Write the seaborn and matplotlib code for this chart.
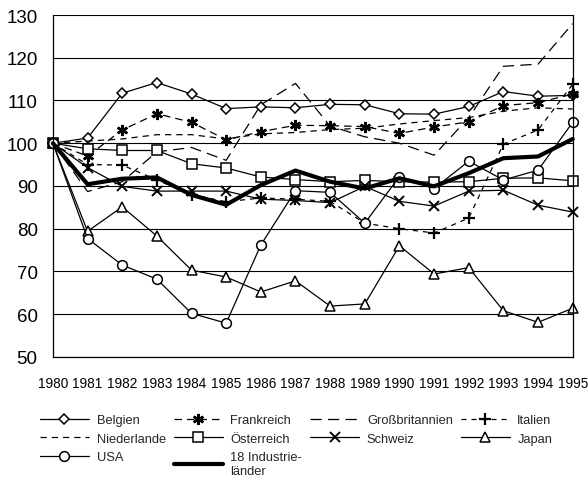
import numpy as np
import pandas as pd
import matplotlib
matplotlib.use("Agg")
import matplotlib.pyplot as plt
import seaborn as sns

years = list(range(1980, 1996))
belgien = [100, 101.2, 111.7, 114.2, 111.5, 108.1, 108.5, 108.3, 109.1, 109.0, 106.9, 106.8, 108.6, 112.1, 111.0, 111.2]
frankreich = [100, 97.0, 103.1, 106.9, 104.9, 100.8, 102.7, 104.2, 104.1, 103.9, 102.3, 103.8, 105.0, 108.8, 109.5, 111.5]
grossbritannien = [100, 88.7, 91.0, 98.0, 99.0, 96.0, 109.0, 114.0, 104.0, 101.5, 100.0, 97.2, 106.0, 118.0, 118.5, 128.0]
italien = [100, 95.0, 94.9, 91.4, 88.0, 86.3, 87.2, 86.9, 86.4, 81.3, 80.0, 79.0, 82.5, 99.8, 103.1, 113.8]
niederlande = [100, 100.5, 101.0, 102.0, 102.0, 101.0, 102.2, 102.5, 103.2, 103.5, 104.5, 105.3, 106.0, 107.5, 108.3, 108.0]
oesterreich = [100, 98.7, 98.3, 98.3, 95.2, 94.2, 92.1, 91.5, 91.0, 91.3, 91.0, 90.9, 91.0, 91.8, 91.9, 91.2]
schweiz = [100, 94.3, 89.9, 88.8, 88.8, 88.8, 86.9, 86.6, 86.1, 89.9, 86.4, 85.3, 88.8, 89.0, 85.5, 83.9]
japan = [100, 79.4, 85.1, 78.3, 70.3, 68.7, 65.2, 67.8, 61.9, 62.4, 76.0, 69.4, 70.9, 60.8, 58.1, 61.4]
usa = [100, 77.7, 71.5, 68.2, 60.2, 57.9, 76.2, 88.9, 88.5, 81.3, 92.2, 89.4, 95.8, 91.4, 93.7, 104.9]
industrie = [100, 90.4, 91.7, 92.0, 87.9, 85.6, 90.2, 93.6, 91.0, 89.4, 91.8, 89.9, 93.0, 96.5, 96.9, 101.0]

labels = ["Belgien", "Frankreich", "Großbritannien", "Italien", "Niederlande",
          "Österreich", "Schweiz", "Japan", "USA", "18 Industrie-\nländer"]
series = [belgien, frankreich, grossbritannien, italien, niederlande,
          oesterreich, schweiz, japan, usa, industrie]

styles = {
    "Belgien": dict(marker="D", ms=5.5, ls="-", lw=0.9),
    "Frankreich": dict(marker=(6, 2, 0), ms=8, ls=(0, (6, 4)), lw=0.9, mew=1.8),
    "Großbritannien": dict(marker=None, ls=(0, (9, 5)), lw=0.9),
    "Italien": dict(marker="+", ms=8, ls=(0, (4, 4)), lw=0.9, mew=1.6),
    "Niederlande": dict(marker=None, ls=(0, (5, 4)), lw=0.9),
    "Österreich": dict(marker="s", ms=7, ls="-", lw=0.9),
    "Schweiz": dict(marker="x", ms=7, ls="-", lw=0.9, mew=1.4),
    "Japan": dict(marker="^", ms=7, ls="-", lw=0.9),
    "USA": dict(marker="o", ms=7, ls="-", lw=0.9),
    "18 Industrie-\nländer": dict(marker=None, ls="-", lw=3.0),
}

rows = []
for lab, vals in zip(labels, series):
    for y, v in zip(years, vals):
        rows.append({"Jahr": y, "Wert": v, "Land": lab})
df = pd.DataFrame(rows)

sns.set_style("white")
plt.rcParams["font.family"] = ["Liberation Sans", "DejaVu Sans"]

fig = plt.figure(figsize=(5.88, 4.85), dpi=100)
ax = fig.add_axes([0.090, 0.262, 0.884, 0.705])

for lab in labels:
    st = dict(styles[lab])
    sub = df[df["Land"] == lab]
    kw = dict(color="black", linewidth=st["lw"], linestyle=st["ls"], label=lab, clip_on=False)
    if st["marker"] is not None:
        kw.update(marker=st["marker"], markersize=st["ms"],
                  markerfacecolor="white", markeredgecolor="black",
                  markeredgewidth=st.get("mew", 1.1))
    sns.lineplot(data=sub, x="Jahr", y="Wert", ax=ax, errorbar=None, sort=False, **kw)

ax.set_xlim(1980, 1995)
ax.set_ylim(50, 130)
ax.set_yticks(range(50, 131, 10))
ax.set_xticks(years)
ax.set_xticklabels([str(y) for y in years], fontsize=9.8)
ax.set_yticklabels([str(v) for v in range(50, 131, 10)], fontsize=13.5)
ax.yaxis.grid(True, color="black", linewidth=0.8)
ax.xaxis.grid(False)
ax.set_axisbelow(True)
for s in ax.spines.values():
    s.set_color("black")
    s.set_linewidth(0.9)
ax.spines["top"].set_visible(False)
ax.tick_params(axis="x", direction="inout", length=7, width=0.8, colors="black", pad=10)
ax.tick_params(axis="y", direction="out", length=3, width=0.8, colors="black", pad=8)
ax.set_xlabel("")
ax.set_ylabel("")

handles, labs = ax.get_legend_handles_labels()
hmap = dict(zip(labs, handles))
order = ["Belgien", "Niederlande", "USA",
         "Frankreich", "Österreich", "18 Industrie-\nländer",
         "Großbritannien", "Schweiz",
         "Italien", "Japan"]
ax.legend([hmap[o] for o in order], order, ncol=4, loc="upper left",
          bbox_to_anchor=(-0.035, -0.152),
          frameon=False, handlelength=3.8, handletextpad=0.6, columnspacing=0.6,
          labelspacing=0.5, borderaxespad=0, fontsize=9.3)

fig.savefig("out.png", dpi=100)
